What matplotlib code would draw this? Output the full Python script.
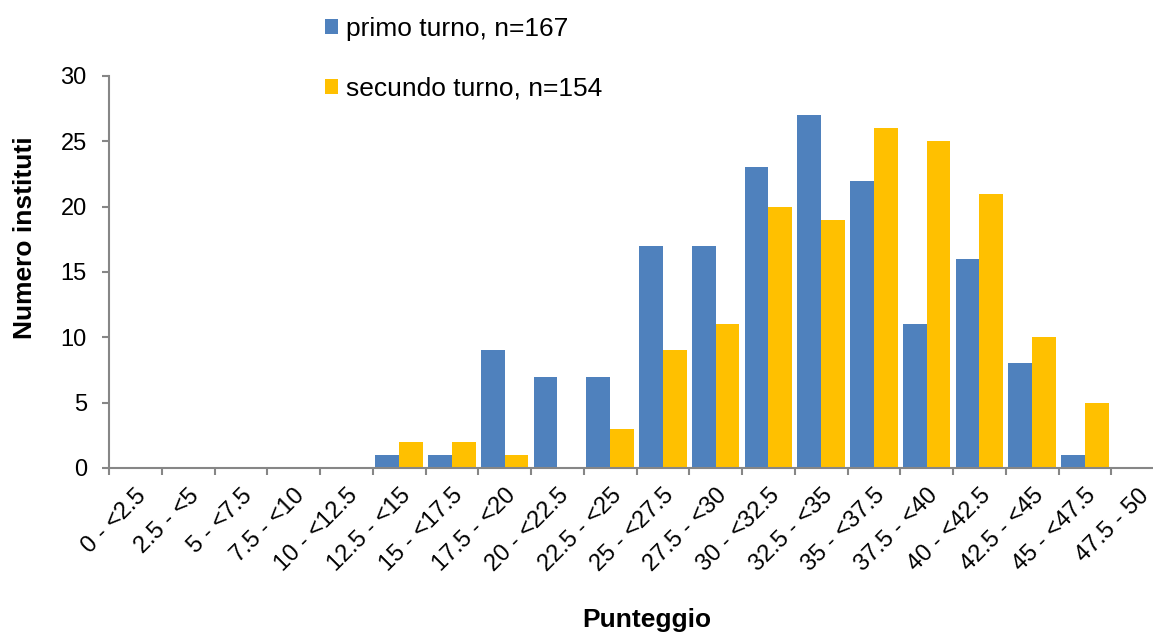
import matplotlib.pyplot as plt
import numpy as np

plt.rcParams['font.family'] = ['Liberation Sans', 'DejaVu Sans']

categories = ['0 - <2.5', '2.5 - <5', '5 - <7.5', '7.5 - <10', '10 - <12.5',
              '12.5 - <15', '15 - <17.5', '17.5 - <20', '20 - <22.5', '22.5 - <25',
              '25 - <27.5', '27.5 - <30', '30 - <32.5', '32.5 - <35', '35 - <37.5',
              '37.5 - <40', '40 - <42.5', '42.5 - <45', '45 - <47.5', '47.5 - 50']
primo = [0, 0, 0, 0, 0, 1, 1, 9, 7, 7, 17, 17, 23, 27, 22, 11, 16, 8, 1, 0]
secondo = [0, 0, 0, 0, 0, 2, 2, 1, 0, 3, 9, 11, 20, 19, 26, 25, 21, 10, 5, 0]

fig = plt.figure(figsize=(11.53, 6.33), dpi=100)
ax = fig.add_axes([109/1153, 1 - 468/633, 1055/1153, 392/633])

x = np.arange(len(categories))
w = 0.45
ax.bar(x - w/2, primo, w, color='#4F81BD', label='primo turno, n=167')
ax.bar(x + w/2, secondo, w, color='#FFC000', label='secundo turno, n=154')

ax.set_xlim(-0.5, len(categories) - 0.5)
ax.set_ylim(0, 30)
ax.set_yticks(np.arange(0, 31, 5))
ax.set_xticks(x)
ax.set_xticklabels(categories, rotation=45, ha='right', rotation_mode='anchor', fontsize=17)
ax.set_xticks(np.arange(-0.5, len(categories), 1), minor=True)
ax.tick_params(axis='x', which='major', length=0, pad=12)
ax.tick_params(axis='x', which='minor', length=5, color='#868686', width=1.5)
ax.tick_params(axis='y', labelsize=17, length=5, color='#868686', width=1.5, pad=11)

for s in ['top', 'right']:
    ax.spines[s].set_visible(False)
for s in ['left', 'bottom']:
    ax.spines[s].set_color('#868686')
    ax.spines[s].set_linewidth(1.5)

fig.text(25/1153, 1 - 238/633, 'Numero instituti', fontsize=19, fontweight='bold',
         rotation=90, ha='center', va='center')
fig.text(647/1153, 1 - 620/633, 'Punteggio', fontsize=19, fontweight='bold', ha='center', va='center')

fig.legend(loc='upper left', bbox_to_anchor=(325/1153, 1 - 17/633), frameon=False,
           fontsize=19, handlelength=0.5, handleheight=0.5, handletextpad=0.3,
           labelspacing=1.35, borderpad=0, borderaxespad=0)

fig.savefig('out.png', dpi=100)
